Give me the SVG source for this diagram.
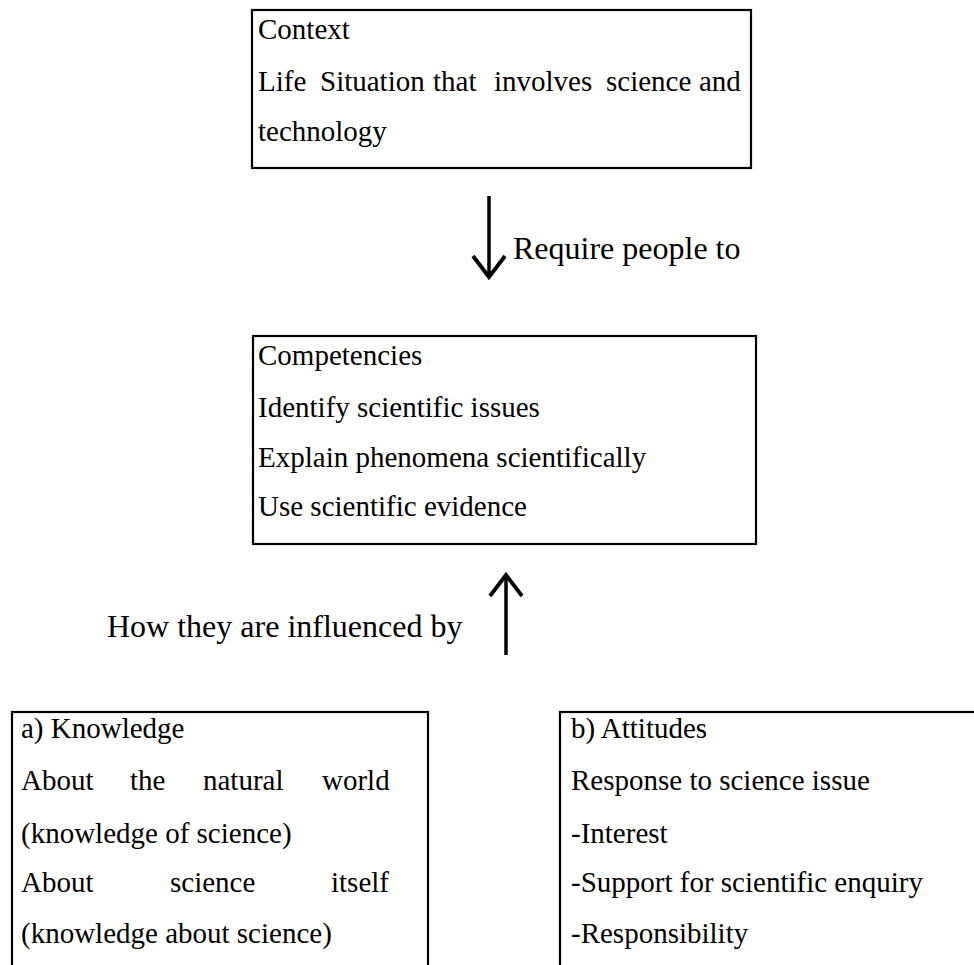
<svg xmlns="http://www.w3.org/2000/svg" width="974" height="965" viewBox="0 0 974 965">
<style>
.box{fill:#fff;stroke:#000;stroke-width:2.2}
.t{font-family:'Liberation Serif','Tinos','Times New Roman','DejaVu Serif',serif;font-size:29px;fill:#000}
.lbl{font-family:'Liberation Serif','Tinos','Times New Roman','DejaVu Serif',serif;font-size:32px;fill:#000}
.conn{stroke:#000;stroke-width:3.5;fill:none}
</style>
<defs>
<marker id="chev" markerUnits="userSpaceOnUse" viewBox="-26 -20 30 40" markerWidth="30" markerHeight="40" refX="0" refY="0" orient="auto">
<path d="M-21,-16 L0,0 L-21,16" stroke="#000" stroke-width="3.8" fill="none" stroke-linejoin="miter"/>
</marker>
</defs>
<rect width="974" height="965" fill="#fff"/>
<g id="context">
<rect class="box" x="252" y="10" width="499" height="158"/>
<text class="t" x="258" y="39">Context</text>
<text class="t" y="91"><tspan x="258">Life</tspan><tspan x="320">Situation</tspan><tspan x="433">that</tspan><tspan x="494">involves</tspan><tspan x="606">science</tspan><tspan x="699">and</tspan></text>
<text class="t" x="258" y="141">technology</text>
</g>
<g id="competencies">
<rect class="box" x="253" y="336" width="503" height="208"/>
<text class="t" x="258" y="365">Competencies</text>
<text class="t" x="258" y="417">Identify scientific issues</text>
<text class="t" x="258" y="467">Explain phenomena scientifically</text>
<text class="t" x="258" y="516">Use scientific evidence</text>
</g>
<g id="knowledge">
<rect class="box" x="12" y="712" width="416" height="300"/>
<text class="t" x="21" y="738">a) Knowledge</text>
<text class="t" y="790"><tspan x="21">About</tspan><tspan x="130">the</tspan><tspan x="203">natural</tspan><tspan x="322">world</tspan></text>
<text class="t" x="21" y="843">(knowledge of science)</text>
<text class="t" y="892"><tspan x="21">About</tspan><tspan x="170">science</tspan><tspan x="331">itself</tspan></text>
<text class="t" x="21" y="943">(knowledge about science)</text>
</g>
<g id="attitudes">
<rect class="box" x="560" y="712" width="450" height="300"/>
<text class="t" x="571" y="738">b) Attitudes</text>
<text class="t" x="571" y="790">Response to science issue</text>
<text class="t" x="571" y="843">-Interest</text>
<text class="t" x="571" y="892">-Support for scientific enquiry</text>
<text class="t" x="571" y="943">-Responsibility</text>
</g>
<g id="connectors">
<line class="conn" x1="489" y1="196" x2="489" y2="277" marker-end="url(#chev)"/>
<text class="lbl" x="513" y="259">Require people to</text>
<line class="conn" x1="506" y1="655" x2="506" y2="575" marker-end="url(#chev)"/>
<text class="lbl" x="107" y="637">How they are influenced by</text>
</g>
</svg>
